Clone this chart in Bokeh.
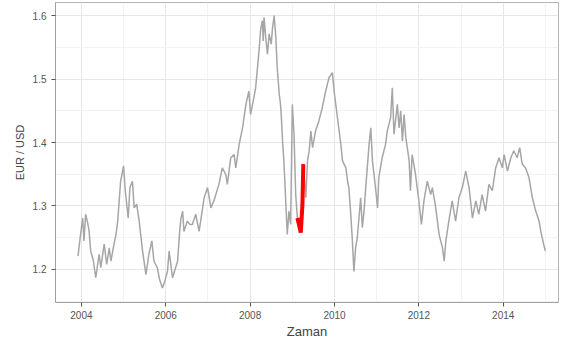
from bokeh.plotting import figure
from bokeh.models import Range1d, FixedTicker
from bokeh.embed import file_html
from bokeh.resources import INLINE

# EUR/USD exchange rate, time in decimal years
t = [
    2003.92, 2003.97, 2004.03, 2004.06, 2004.10, 2004.14, 2004.18, 2004.22, 2004.28, 2004.34,
    2004.42, 2004.46, 2004.54, 2004.60, 2004.66, 2004.70, 2004.77, 2004.82, 2004.86, 2004.93,
    2005.00, 2005.04, 2005.11, 2005.15, 2005.21, 2005.25, 2005.31, 2005.37, 2005.45, 2005.53,
    2005.60, 2005.67, 2005.72, 2005.80, 2005.85, 2005.92, 2005.98, 2006.04, 2006.08, 2006.16,
    2006.22, 2006.28, 2006.33, 2006.36, 2006.40, 2006.43, 2006.51, 2006.57, 2006.63, 2006.71,
    2006.79, 2006.91, 2006.99, 2007.07, 2007.14, 2007.26, 2007.34, 2007.42, 2007.46, 2007.54,
    2007.62, 2007.66, 2007.74, 2007.82, 2007.90, 2007.97, 2008.01, 2008.09, 2008.13, 2008.21,
    2008.25, 2008.29, 2008.31, 2008.33, 2008.37, 2008.41, 2008.45, 2008.50, 2008.53, 2008.57,
    2008.61, 2008.64, 2008.69, 2008.72, 2008.74, 2008.77, 2008.80, 2008.84, 2008.88, 2008.92,
    2008.96, 2009.00, 2009.04, 2009.08, 2009.12, 2009.16, 2009.20, 2009.24, 2009.26, 2009.32,
    2009.36, 2009.40, 2009.44, 2009.48, 2009.55, 2009.63, 2009.71, 2009.79, 2009.87, 2009.95,
    2009.99, 2010.07, 2010.15, 2010.19, 2010.27, 2010.31, 2010.34, 2010.38, 2010.42, 2010.46,
    2010.50, 2010.54, 2010.58, 2010.62, 2010.66, 2010.70, 2010.74, 2010.82, 2010.86, 2010.90,
    2010.98, 2011.02, 2011.05, 2011.13, 2011.21, 2011.25, 2011.33, 2011.37, 2011.41, 2011.49,
    2011.53, 2011.57, 2011.61, 2011.65, 2011.69, 2011.77, 2011.80, 2011.84, 2011.92, 2012.00,
    2012.06, 2012.12, 2012.20, 2012.28, 2012.32, 2012.40, 2012.48, 2012.56, 2012.60, 2012.64,
    2012.71, 2012.79, 2012.87, 2012.95, 2013.03, 2013.11, 2013.19, 2013.27, 2013.35, 2013.42,
    2013.50, 2013.58, 2013.66, 2013.74, 2013.82, 2013.90, 2013.98, 2014.02, 2014.10, 2014.18,
    2014.25, 2014.33, 2014.39, 2014.45, 2014.53, 2014.61, 2014.69, 2014.77, 2014.85, 2014.89,
    2014.96, 2015.00,
]
rate = [
    1.221, 1.250, 1.281, 1.245, 1.287, 1.276, 1.262, 1.229, 1.215, 1.187,
    1.224, 1.203, 1.240, 1.208, 1.234, 1.213, 1.239, 1.255, 1.276, 1.339,
    1.363, 1.324, 1.281, 1.329, 1.339, 1.297, 1.303, 1.276, 1.229, 1.192,
    1.224, 1.245, 1.213, 1.203, 1.185, 1.171, 1.182, 1.197, 1.229, 1.187,
    1.200, 1.213, 1.260, 1.281, 1.292, 1.260, 1.276, 1.271, 1.271, 1.287,
    1.260, 1.313, 1.329, 1.297, 1.308, 1.334, 1.360, 1.350, 1.334, 1.376,
    1.381, 1.360, 1.397, 1.423, 1.460, 1.481, 1.444, 1.471, 1.486, 1.544,
    1.579, 1.592, 1.560, 1.597, 1.565, 1.539, 1.571, 1.555, 1.580, 1.600,
    1.565, 1.520, 1.476, 1.460, 1.440, 1.400, 1.371, 1.313, 1.255, 1.292,
    1.271, 1.460, 1.413, 1.318, 1.281, 1.270, 1.258, 1.302, 1.366, 1.313,
    1.371, 1.387, 1.418, 1.392, 1.418, 1.434, 1.455, 1.481, 1.502, 1.510,
    1.481, 1.439, 1.397, 1.371, 1.360, 1.339, 1.329, 1.292, 1.250, 1.197,
    1.234, 1.250, 1.281, 1.313, 1.266, 1.292, 1.329, 1.397, 1.423, 1.371,
    1.324, 1.297, 1.345, 1.376, 1.397, 1.418, 1.439, 1.486, 1.413, 1.460,
    1.423, 1.450, 1.402, 1.444, 1.408, 1.371, 1.324, 1.381, 1.350, 1.308,
    1.271, 1.308, 1.339, 1.318, 1.329, 1.297, 1.255, 1.234, 1.213, 1.245,
    1.276, 1.308, 1.276, 1.313, 1.329, 1.355, 1.329, 1.281, 1.308, 1.287,
    1.318, 1.292, 1.334, 1.324, 1.360, 1.376, 1.360, 1.381, 1.355, 1.376,
    1.387, 1.376, 1.392, 1.366, 1.360, 1.345, 1.313, 1.292, 1.276, 1.260,
    1.239, 1.229,
]

# highlighted stretch (early 2009)
t_hl = [2009.12, 2009.16, 2009.20, 2009.24, 2009.26]
rate_hl = [1.281, 1.270, 1.258, 1.302, 1.366]

x_ticks = [2004, 2006, 2008, 2010, 2012, 2014]
x_minor = [2005, 2007, 2009, 2011, 2013, 2015]
y_ticks = [1.2, 1.3, 1.4, 1.5, 1.6]
y_minor = [1.15, 1.25, 1.35, 1.45, 1.55]

p = figure(
    width=564, height=341,
    x_range=Range1d(2003.386, 2015.31),
    y_range=Range1d(1.148, 1.6205),
    output_backend="svg", toolbar_location=None,
    min_border_left=55, min_border_right=6,
    min_border_top=2, min_border_bottom=39,
)
p.background_fill_color = "white"
p.border_fill_color = "white"
p.outline_line_color = "#b5b5b5"
p.outline_line_width = 1

p.line(t, rate, line_color="#a6a6a6", line_width=1.5, line_join="bevel")
p.line(t_hl, rate_hl, line_color="#ff0000", line_width=4)

p.xaxis.ticker = FixedTicker(ticks=x_ticks, minor_ticks=x_minor)
p.yaxis.ticker = FixedTicker(ticks=y_ticks, minor_ticks=y_minor)
p.xaxis.major_label_overrides = {v: str(v) for v in x_ticks}
p.yaxis.major_label_overrides = {v: f"{v:.1f}" for v in y_ticks}

for g in (p.xgrid, p.ygrid):
    g.grid_line_color = "#e6e6e6"
    g.grid_line_width = 1
    g.minor_grid_line_color = "#f3f3f3"
    g.minor_grid_line_width = 1

for ax in (p.xaxis, p.yaxis):
    ax.axis_line_color = "#a0a0a0"
    ax.major_tick_line_color = "#555555"
    ax.major_tick_in = 0
    ax.major_tick_out = 4
    ax.minor_tick_line_color = None
    ax.major_label_text_font = "Liberation Sans"
    ax.major_label_text_font_size = "10px"
    ax.major_label_text_color = "#555555"
    ax.axis_label_text_font = "Liberation Sans"
    ax.axis_label_text_font_style = "normal"
    ax.axis_label_text_color = "#444444"

p.xaxis.axis_label = "Zaman"
p.xaxis.axis_label_text_font_size = "13px"
p.xaxis.major_label_standoff = 4
p.xaxis.axis_label_standoff = 2

p.yaxis.axis_label = "EUR / USD"
p.yaxis.axis_label_text_font_size = "11px"
p.yaxis.major_label_standoff = 5
p.yaxis.axis_label_standoff = 4

open("out.html", "w").write(file_html(p, INLINE))
